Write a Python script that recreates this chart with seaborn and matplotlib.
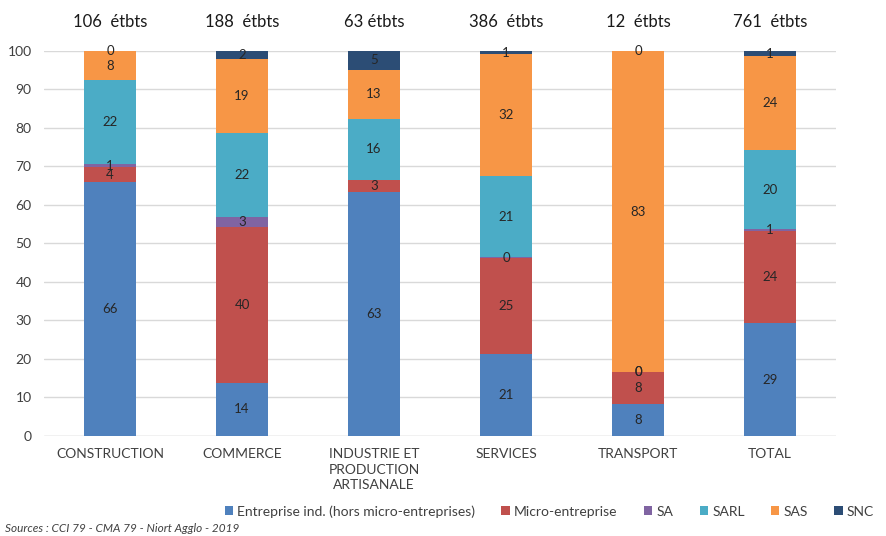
import matplotlib
matplotlib.use("Agg")
import matplotlib.pyplot as plt
import numpy as np
import pandas as pd
import seaborn as sns
from matplotlib.patches import Patch

sns.set_style("white")
plt.rcParams["font.family"] = ["Lato", "DejaVu Sans"]

categories = ["CONSTRUCTION", "COMMERCE", "INDUSTRIE ET\nPRODUCTION\nARTISANALE",
              "SERVICES", "TRANSPORT", "TOTAL"]
headcounts = ["106  étbts", "188  étbts", "63 étbts", "386  étbts", "12  étbts", "761  étbts"]

series = ["Entreprise ind. (hors micro-entreprises)", "Micro-entreprise", "SA", "SARL", "SAS", "SNC"]
entreprise_ind = [66.0, 13.8, 63.3, 21.2, 8.3, 29.3]
micro_entreprise = [3.8, 40.4, 3.3, 24.9, 8.3, 23.9]
sa = [0.9, 2.7, np.nan, 0.3, 0.0, 0.6]
sarl = [21.7, 21.8, 15.8, 21.2, 0.0, 20.4]
sas = [7.6, 19.1, 12.7, 31.6, 83.4, 24.4]
snc = [0.0, 2.2, 4.9, 0.8, 0.0, 1.4]

colors = ["#4F81BD", "#C0504D", "#8064A2", "#4BACC6", "#F79646", "#2C4D75"]

df = pd.DataFrame(
    {
        series[0]: entreprise_ind,
        series[1]: micro_entreprise,
        series[2]: sa,
        series[3]: sarl,
        series[4]: sas,
        series[5]: snc,
    },
    index=categories,
)
cum = df.fillna(0).cumsum(axis=1)

fig = plt.figure(figsize=(8.86, 5.36), dpi=100)
ax = fig.add_axes([0.0497, 0.1866, 0.894, 0.7183])

# stacked bars: draw cumulative totals from the top layer down
for name, color in reversed(list(zip(series, colors))):
    sns.barplot(x=categories, y=cum[name].values, color=color, width=0.39,
                saturation=1, ax=ax, zorder=2, linewidth=0)

# segment labels
for i, cat in enumerate(categories):
    for name in series:
        v = df.loc[cat, name]
        if np.isnan(v):
            continue
        y = cum.loc[cat, name] - v / 2
        ax.text(i, y, f"{v:.0f}", ha="center", va="center", fontsize=9.5,
                color="#262626", zorder=3)
    ax.text(i, 107.5, headcounts[i], ha="center", va="center", fontsize=12,
            color="#1a1a1a", clip_on=False)

ax.set_ylim(0, 100)
ax.set_xlim(-0.5, 5.5)
ax.set_yticks(np.arange(0, 101, 10))
ax.yaxis.grid(True, color="#D9D9D9", linewidth=1, zorder=0)
ax.set_axisbelow(True)
for s in ["top", "right", "left", "bottom"]:
    ax.spines[s].set_visible(False)
ax.axhline(0, color="#D9D9D9", linewidth=1, zorder=1)
ax.tick_params(axis="both", length=0, labelsize=10, colors="#404040")
ax.tick_params(axis="y", pad=9)
ax.tick_params(axis="x", pad=9)
ax.set_xticks(range(len(categories)))
ax.set_xticklabels(categories, linespacing=1.35)
ax.set_xlabel("")
ax.set_ylabel("")

handles = [Patch(facecolor=c, edgecolor="none", label=n) for n, c in zip(series, colors)]
fig.legend(handles=handles, loc="center", bbox_to_anchor=(0.62, 0.046), ncol=6,
           frameon=False, fontsize=10, handlelength=0.6, handleheight=0.6,
           handletextpad=0.3, columnspacing=1.9, labelcolor="#404040")

fig.text(0.006, 0.004, "Sources : CCI 79 - CMA 79 - Niort Agglo - 2019", fontsize=8.5,
         style="italic", color="#404040", ha="left", va="bottom")

fig.savefig("out.png", dpi=100)
